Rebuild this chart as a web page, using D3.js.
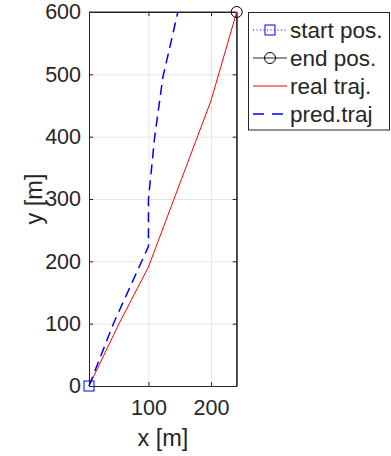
<!DOCTYPE html>
<html>
<head>
  <meta charset="utf-8">
  <title>Trajectory</title>
  <style>
  body { margin: 0; background: #fff; }
  text { font-family: "Liberation Sans", Arial, sans-serif; fill: #262626; }
  .grid line { stroke: #e5e5e5; stroke-width: 1px; }
  .grid path { display: none; }
  .axis path, .axis line { stroke: #262626; }
  </style>
</head>
<body>
  <div id="chart"></div>
  <script src="https://cdn.jsdelivr.net/npm/d3@7"></script>
  <script>
  // data
  var startPos = [5, 0];
  var endPos = [241, 600];
  var realX = [5, 53, 100, 200, 241];
  var realY = [0, 100, 191, 458, 600];
  var predX = [5, 44, 100, 100, 110, 123, 147];
  var predY = [0, 100, 224, 300, 400, 495, 600];
  var xTicks = [100, 200];
  var yTicks = [0, 100, 200, 300, 400, 500, 600];
  var legendLabels = ["start pos.", "end pos.", "real traj.", "pred.traj"];

  var width = 391, height = 456;
  var pLeft = 89, pTop = 12, pRight = 236.7, pBottom = 386;

  var svg = d3.select("#chart").append("svg")
    .attr("width", width)
    .attr("height", height);

  var x = d3.scaleLinear().domain([startPos[0], endPos[0]]).range([pLeft, pRight]);
  var y = d3.scaleLinear().domain([0, 600]).range([pBottom, pTop]);

  //grid
  svg.append("g").attr("class", "grid")
    .attr("transform", "translate(0," + pBottom + ")")
    .call(d3.axisBottom(x).tickValues(xTicks).tickSize(-(pBottom - pTop)).tickFormat(""));
  svg.append("g").attr("class", "grid")
    .attr("transform", "translate(" + pLeft + ",0)")
    .call(d3.axisLeft(y).tickValues(yTicks).tickSize(-(pRight - pLeft)).tickFormat(""));

  //box (top + right)
  svg.append("path")
    .attr("d", "M" + pLeft + "," + pTop + "H" + pRight + "V" + pBottom)
    .attr("fill", "none").attr("stroke", "#262626").attr("stroke-width", 1);

  //axes with inward ticks
  var xAxis = svg.append("g").attr("class", "axis")
    .attr("transform", "translate(0," + pBottom + ")")
    .call(d3.axisBottom(x).tickValues(xTicks).tickSizeInner(-4).tickSizeOuter(0).tickPadding(14));
  xAxis.selectAll("text").style("font-size", "21.5px").attr("fill", "#262626");
  svg.append("g").attr("class", "axis")
    .attr("transform", "translate(0," + pTop + ")")
    .call(d3.axisTop(x).tickValues(xTicks).tickSizeInner(-4).tickSizeOuter(0).tickFormat(""));

  var yAxis = svg.append("g").attr("class", "axis")
    .attr("transform", "translate(" + pLeft + ",0)")
    .call(d3.axisLeft(y).tickValues(yTicks).tickSizeInner(-4).tickSizeOuter(0).tickPadding(8));
  yAxis.selectAll("text").style("font-size", "21.5px").attr("fill", "#262626");
  svg.append("g").attr("class", "axis")
    .attr("transform", "translate(" + pRight + ",0)")
    .call(d3.axisRight(y).tickValues(yTicks).tickSizeInner(-4).tickSizeOuter(0).tickFormat(""));

  //axis labels
  svg.append("text")
    .attr("x", (pLeft + pRight) / 2).attr("y", 446)
    .attr("text-anchor", "middle").style("font-size", "23.5px")
    .text("x [m]");
  svg.append("text")
    .attr("transform", "translate(42," + (pTop + pBottom) / 2 + ") rotate(-90)")
    .attr("text-anchor", "middle").style("font-size", "23.5px")
    .text("y [m]");

  var line = d3.line().x(function(d) { return x(d[0]); }).y(function(d) { return y(d[1]); });
  var realPts = realX.map(function(v, i) { return [v, realY[i]]; });
  var predPts = predX.map(function(v, i) { return [v, predY[i]]; });

  svg.append("path").datum(realPts)
    .attr("d", line).attr("fill", "none").attr("stroke", "#ff0000").attr("stroke-width", 1);
  svg.append("path").datum(predPts)
    .attr("d", line).attr("fill", "none").attr("stroke", "#0000ff")
    .attr("stroke-width", 1.5).attr("stroke-dasharray", "10,6");

  //markers
  svg.append("rect")
    .attr("x", x(startPos[0]) - 5).attr("y", y(startPos[1]) - 5)
    .attr("width", 10).attr("height", 10)
    .attr("fill", "none").attr("stroke", "#0000ff").attr("stroke-width", 1);
  svg.append("circle")
    .attr("cx", x(endPos[0])).attr("cy", y(endPos[1])).attr("r", 5.5)
    .attr("fill", "none").attr("stroke", "#000").attr("stroke-width", 1);

  //legend
  var lg = svg.append("g");
  lg.append("rect")
    .attr("x", 248.5).attr("y", 12.5).attr("width", 141).attr("height", 117.5)
    .attr("fill", "#fff").attr("stroke", "#262626").attr("stroke-width", 1);
  var rowY = [30, 58, 86, 114];
  var items = lg.selectAll("g.item").data(legendLabels).enter().append("g")
    .attr("class", "item")
    .attr("transform", function(d, i) { return "translate(0," + rowY[i] + ")"; });
  items.append("text")
    .attr("x", 290).attr("dy", "0.35em").style("font-size", "22.5px")
    .text(function(d) { return d; });
  var s0 = items.filter(function(d, i) { return i === 0; });
  s0.append("line").attr("x1", 253).attr("x2", 287).attr("stroke", "#0000ff")
    .attr("stroke-dasharray", "1,2.5").attr("stroke-width", 1);
  s0.append("rect").attr("x", 265).attr("y", -5).attr("width", 10).attr("height", 10)
    .attr("fill", "none").attr("stroke", "#0000ff");
  var s1 = items.filter(function(d, i) { return i === 1; });
  s1.append("line").attr("x1", 253).attr("x2", 287).attr("stroke", "#262626");
  s1.append("circle").attr("cx", 270).attr("r", 5.5).attr("fill", "none").attr("stroke", "#000");
  items.filter(function(d, i) { return i === 2; })
    .append("line").attr("x1", 253).attr("x2", 287).attr("stroke", "#ff0000");
  items.filter(function(d, i) { return i === 3; })
    .append("line").attr("x1", 253).attr("x2", 287).attr("stroke", "#0000ff")
    .attr("stroke-width", 1.5).attr("stroke-dasharray", "11,8");
  </script>
</body>
</html>
